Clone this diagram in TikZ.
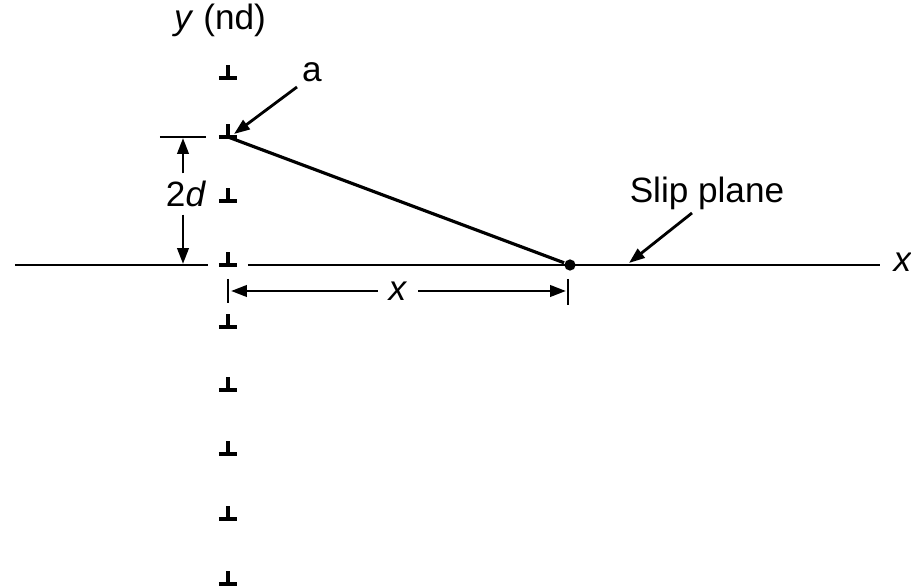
\documentclass[tikz,border=0pt]{standalone}
\usepackage{fontspec}
\setmainfont{Liberation Sans}
\usetikzlibrary{arrows.meta, positioning}

\begin{document}
\begin{tikzpicture}[x=0.01cm, y=-0.01cm, font=\fontsize{10}{12}\selectfont,
            ln/.style={line width=0.8pt},
            arr/.style={ln, -{Triangle[length=4.5pt, width=3.2pt]}},
            lbl/.style={inner sep=1pt},
            disl/.pic={\draw[line width=0.9pt] (-9,0) -- (9,0) (0,0) -- (0,-13);}]
            \useasboundingbox (0,0) rectangle (911,588);
            % dislocations along y
            \foreach \yy [count=\i] in {78,137,201,265,327,390,454,519,584}
              \path (228,\yy) coordinate (d\i) pic {disl};
            \node[lbl] (ylab) at (220,20) {\textit{y} (nd)};
            % slip plane
            \coordinate (axL) at (15,265);
            \coordinate (gapL) at (208,265);
            \coordinate (gapR) at (248,265);
            \coordinate (axR) at (880,265);
            \draw[ln] (axL) -- (gapL) (gapR) -- (axR);
            \node[lbl] (xlab) at (903,262) {\textit{x}};
            \node[circle, fill, inner sep=0pt, minimum size=3.2pt] (P) at (570,265) {};
            \draw[line width=0.9pt] (d2) -- (P);
            % labels with leaders
            \node[lbl] (alab) at (312,72) {a};
            \coordinate (atail) at (297,87);
            \coordinate (atip) at (234,134);
            \draw[arr] (atail) -- (atip);
            \node[lbl] (slip) at (707,193) {Slip plane};
            \coordinate (stail) at (692,213);
            \coordinate (stip) at (629,263);
            \draw[arr] (stail) -- (stip);
            % 2d dimension
            \coordinate (extL) at (160,137);
            \coordinate (extR) at (206,137);
            \draw[ln] (extL) -- (extR);
            \node[lbl, inner sep=2pt] (dlab) at (186,194) {2\textit{d}};
            \draw[arr] (dlab.north -| 183,0) -- (183,138);
            \draw[arr] (dlab.south -| 183,0) -- (183,264);
            % x dimension
            \draw[ln] (228,279) -- (228,303);
            \draw[ln] (568,279) -- (568,305);
            \node[lbl, inner sep=0pt] (xdim) at (398,291) {\textit{x}};
            \draw[arr] (xdim.west) ++(-10,0) -- (231,291);
            \draw[arr] (xdim.east) ++(10,0) -- (566,291);
        \end{tikzpicture}
\end{document}
